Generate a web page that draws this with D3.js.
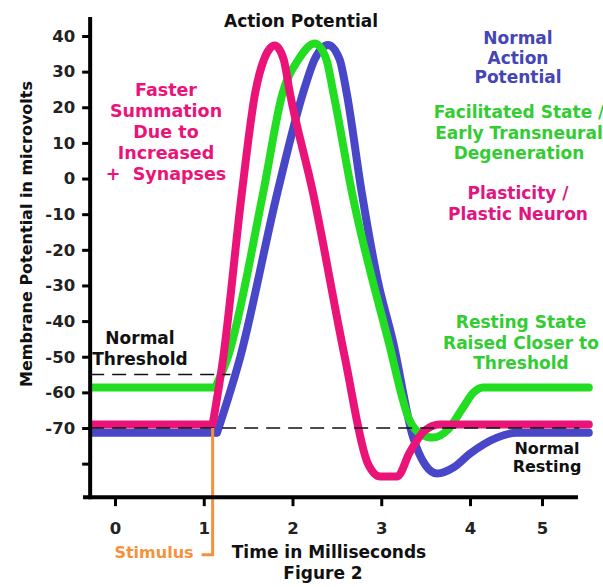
<!DOCTYPE html>
<html><head><meta charset="utf-8">
<script src="https://cdn.jsdelivr.net/npm/d3@7"></script>
<style>
html,body{margin:0;padding:0;background:#fff;}
svg{display:block;font-family:"DejaVu Sans",Verdana,sans-serif;font-weight:bold;}
</style>
</head><body>
<svg id="c" width="603" height="587"></svg>
<script>
// ---- data ----
const xTicks = [0, 1, 2, 3, 4, 5];
const yTicks = [40, 30, 20, 10, 0, -10, -20, -30, -40, -50, -60, -70, -80];
const yTickLabels = ["40", "30", "20", "10", "0", "-10", "-20", "-30", "-40", "-50", "-60", "-70", ""];

// Normal action potential (blue)
const normalT = [-0.28, 1.15, 1.41, 1.83, 2.12, 2.25, 2.40, 2.53, 2.61, 2.78, 2.96, 3.13, 3.36, 3.50, 3.63, 3.82, 4.00, 4.375, 4.65, 5.65];
const normalV = [-71.3, -71.3, -50.2, -3.9, 24.1, 33.5, 37.5, 33.5, 24.1, -3.9, -28.6, -45.5, -72.7, -80.5, -82.8, -81.0, -77.2, -72.7, -71.3, -71.3];

// Facilitated state (green)
const facilT = [-0.28, 1.13, 1.27, 1.67, 1.89, 2.07, 2.25, 2.38, 2.46, 2.67, 3.08, 3.32, 3.45, 3.58, 3.75, 3.92, 4.05, 4.18, 5.65];
const facilV = [-58.6, -58.6, -50.2, -3.9, 24.1, 33.5, 37.9, 33.5, 24.1, -3.9, -45.5, -67.9, -71.8, -72.7, -70.5, -64.3, -60.0, -58.6, -58.6];

// Plasticity (pink)
const plastT = [-0.28, 1.10, 1.22, 1.43, 1.58, 1.68, 1.80, 1.90, 1.97, 2.23, 2.59, 2.85, 2.99, 3.18, 3.32, 3.49, 3.66, 5.65];
const plastV = [-69.0, -69.0, -50.2, -3.9, 24.1, 33.5, 37.3, 33.5, 24.1, -3.9, -50.2, -80.0, -83.6, -83.6, -76.9, -70.7, -69.0, -69.0];

const normalThreshold = -55;
const normalResting = -70;
const stimulusT = 1.1;

const colors = {blue: "#4747c8", green: "#22dd22", pink: "#ea1479", orange: "#f5913c"};

// ---- scales ----
const svg = d3.select("#c");
const x = d3.scaleLinear().domain([0, 4, 5]).range([115, 470, 542]);
const y = d3.scaleLinear().domain([-70, 40]).range([428, 36]);
const xMin = -0.28, xAxisLeft = -0.36, xMax = 5.5;
const yMin = -89.4, yMax = 45.3;

// ---- curves ----
const flatLine = d3.line().x(d => x(d[0])).y(d => y(d[1]));
const smoothLine = d3.line().x(d => x(d[0])).y(d => y(d[1])).curve(d3.curveMonotoneX);
const series = [
  {t: normalT, v: normalV, c: colors.blue},
  {t: facilT, v: facilV, c: colors.green},
  {t: plastT, v: plastV, c: colors.pink}
];
series.forEach(s => {
  const pts = s.t.map((t, i) => [t, s.v[i]]);
  const g = svg.append("g").attr("fill", "none").attr("stroke", s.c).attr("stroke-width", 8);
  g.append("path").attr("d", flatLine(pts.slice(0, 2)));
  g.append("path").attr("d", smoothLine(pts.slice(1))).attr("stroke-linecap", "round").attr("stroke-linejoin", "round");
});

// ---- dashed reference lines ----
svg.append("line")
  .attr("x1", x(xMin)).attr("x2", x(1.30))
  .attr("y1", y(normalThreshold)).attr("y2", y(normalThreshold))
  .attr("stroke", "#111").attr("stroke-width", 1.4).attr("stroke-dasharray", "14,8");
svg.append("line")
  .attr("x1", x(xMin)).attr("x2", x(5.52))
  .attr("y1", y(normalResting)).attr("y2", y(normalResting))
  .attr("stroke", "#111").attr("stroke-width", 1.4).attr("stroke-dasharray", "14,8");

// ---- stimulus marker ----
svg.append("path")
  .attr("d", d3.line()([[x(stimulusT), y(-70)], [x(stimulusT), y(-105.6)], [x(stimulusT) - 11, y(-105.6)]]))
  .attr("fill", "none").attr("stroke", colors.orange).attr("stroke-width", 3);

// ---- axes ----
const yAxis = svg.append("g")
  .attr("transform", `translate(${x(xMin)},0)`)
  .call(d3.axisLeft(y).tickValues(yTicks).tickFormat((d, i) => yTickLabels[i]).tickSize(8).tickPadding(7));
const xAxis = svg.append("g")
  .attr("transform", `translate(0,${y(yMin)})`)
  .call(d3.axisBottom(x).tickValues(xTicks).tickFormat(d3.format("d")).tickSize(9).tickPadding(8));
[yAxis, xAxis].forEach(g => {
  g.select(".domain").remove();
  g.selectAll(".tick line").attr("stroke", "#000").attr("stroke-width", 3);
  g.selectAll(".tick text").attr("fill", "#222").style("font-size", "16.5px").style("font-weight", "bold")
    .style("font-family", '"DejaVu Sans",Verdana,sans-serif');
});
xAxis.selectAll(".tick text").attr("y", 37).attr("dy", 0);
svg.append("line").attr("x1", x(xMin)).attr("x2", x(xMin)).attr("y1", y(yMax)).attr("y2", y(yMin) + 2)
  .attr("stroke", "#000").attr("stroke-width", 4);
svg.append("line").attr("x1", x(xAxisLeft)).attr("x2", x(xMax)).attr("y1", y(yMin)).attr("y2", y(yMin))
  .attr("stroke", "#000").attr("stroke-width", 4);

// ---- text labels ----
function label(lines, cx, y0, dy, color, size) {
  const t = svg.append("text").attr("text-anchor", "middle").attr("fill", color).style("font-size", size + "px");
  lines.forEach((l, i) => t.append("tspan").attr("x", cx).attr("y", y0 + i * dy).text(l));
}
label(["Action Potential"], 301, 27, 0, "#111", 17);
label(["Faster", "Summation", "Due to", "Increased", "+\u00a0 Synapses"], 166, 96, 21, colors.pink, 17.5);
label(["Normal", "Action", "Potential"], 518, 44, 19.5, "#4545b5", 17);
label(["Facilitated State /", "Early Transneural", "Degeneration"], 519, 118, 20.5, "#33cc33", 17);
label(["Plasticity /", "Plastic Neuron"], 518, 199, 20.5, "#e0157f", 17);
label(["Resting State", "Raised Closer to", "Threshold"], 521, 328, 20.5, "#33cc33", 17);
label(["Normal", "Threshold"], 140, 344, 21, "#111", 17);
label(["Normal", "Resting"], 547, 454, 17.5, "#111", 16);
label(["Stimulus"], 154, 558, 0, colors.orange, 16);
label(["Time in Milliseconds"], 329, 558, 0, "#111", 17);
label(["Figure 2"], 323, 579, 0, "#111", 17);

svg.append("text")
  .attr("transform", "translate(32,234) rotate(-90)")
  .attr("text-anchor", "middle").attr("fill", "#111").style("font-size", "16px")
  .text("Membrane Potential in microvolts");
</script>
</body></html>
